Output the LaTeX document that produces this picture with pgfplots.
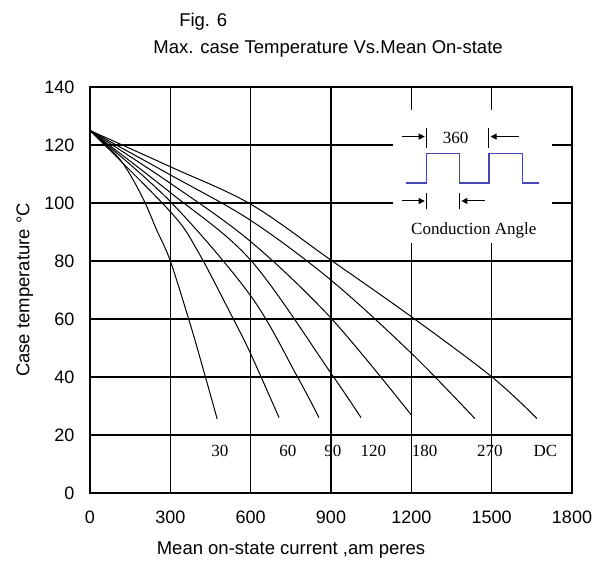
\documentclass[border=0pt]{standalone}
\usepackage{fontspec}
\setmainfont{Liberation Sans}
\newfontfamily\serifA{Liberation Serif}
\usepackage{pgfplots}
\pgfplotsset{compat=1.18}
\usetikzlibrary{arrows.meta}
\definecolor{wave}{HTML}{4646B4}

\pgfplotsset{curve/.style={black, line width=1pt, no markers, smooth, tension=0.55}}

\begin{document}
\begin{tikzpicture}
\path[use as bounding box] (0,0) rectangle (604pt,563pt);
\begin{axis}[
  at={(90pt,70pt)}, anchor=south west,
  scale only axis, width=482pt, height=406pt,
  xmin=0, xmax=1800, ymin=0, ymax=140,
  xtick={0,300,...,1800}, ytick={0,20,...,140},
  grid=major, grid style={black, line width=1.2pt},
  axis line style={black, line width=1.4pt},
  major tick length=0pt,
  clip=false,
  tick label style={font=\fontsize{18}{20}\selectfont,
    /pgf/number format/assume math mode=true,
    /pgf/number format/1000 sep={}},
  xticklabel style={yshift=-14pt},
  yticklabel style={xshift=-12pt},
  title={Max. case Temperature Vs.Mean On-state},
  title style={font=\fontsize{18.5}{20}\selectfont, at={(axis description cs:0.494,1.08)}, anchor=center},
  xlabel={Mean on-state current ,am peres},
  xlabel style={font=\fontsize{18.5}{20}\selectfont, at={(axis description cs:0.417,-0.141)}, anchor=center},
  ylabel={Case temperature °C},
  ylabel style={font=\fontsize{18.5}{20}\selectfont, at={(axis description cs:-0.135,0.5)}, anchor=center},
]
% curves by conduction angle
\addplot[curve] coordinates {(0,125) (112,115) (193,102.5) (249,90.7) (300,80) (375,58) (425,42) (475,25.5)};
\addplot[curve] coordinates {(0,125) (300,97) (400,83.8) (537,59.7) (600,48) (706,26)};
\addplot[curve] coordinates {(0,125) (300,100.5) (600,68) (775,40) (855,26)};
\addplot[curve] coordinates {(0,125) (300,103.6) (600,80.3) (900,41.3) (1012,26)};
\addplot[curve] coordinates {(0,125) (300,106.8) (600,86.7) (900,60.3) (1200,26.9)};
\addplot[curve] coordinates {(0,125) (300,109.7) (600,94) (900,73.4) (1200,48.2) (1437,25.7)};
\addplot[curve] coordinates {(0,125) (300,112.5) (600,99.6) (900,80.3) (1200,60.8) (1500,40.1) (1669,25.7)};

\begin{scope}[font=\serifA\fontsize{17}{18}\selectfont]
\node at (axis cs:485,14.5) {30};
\node at (axis cs:739,14.5) {60};
\node at (axis cs:907,14.5) {90};
\node at (axis cs:1058,14.5) {120};
\node at (axis cs:1250,14.5) {180};
\node at (axis cs:1493,14.5) {270};
\node at (axis cs:1701,14.5) {DC};
\end{scope}

% inset
\fill[white] (axis cs:1131,86.2) rectangle (axis cs:1724,132);
\addplot[wave, line width=1.3pt, sharp plot, no markers] coordinates {(1181,106.9) (1256,106.9) (1256,117) (1381,117) (1381,106.9) (1490,106.9) (1490,117) (1616,117) (1616,106.9) (1678,106.9)};
\begin{scope}[line width=1pt, black]
\draw (axis cs:1256,119) -- (axis cs:1256,125.9);
\draw (axis cs:1490,119) -- (axis cs:1490,125.9);
\draw[-{Triangle[length=6pt,width=6pt]}] (axis cs:1164,122.9) -- (axis cs:1250,122.9);
\draw[-{Triangle[length=6pt,width=6pt]}] (axis cs:1601,122.9) -- (axis cs:1496,122.9);
\draw (axis cs:1256,97.8) -- (axis cs:1256,103.6);
\draw (axis cs:1381,97.8) -- (axis cs:1381,103.6);
\draw[-{Triangle[length=6pt,width=6pt]}] (axis cs:1164,100.7) -- (axis cs:1250,100.7);
\draw[-{Triangle[length=6pt,width=6pt]}] (axis cs:1474,100.7) -- (axis cs:1387,100.7);
\end{scope}
\node[font=\serifA\fontsize{17}{18}\selectfont] at (axis cs:1365,122.6) {360};
\node[font=\serifA\fontsize{17}{18}\selectfont] at (axis cs:1433,90.7) {Conduction Angle};
\node[font=\fontsize{18.5}{20}\selectfont] at (axis description cs:0.235,1.16) {Fig. 6};
\end{axis}
\end{tikzpicture}
\end{document}
